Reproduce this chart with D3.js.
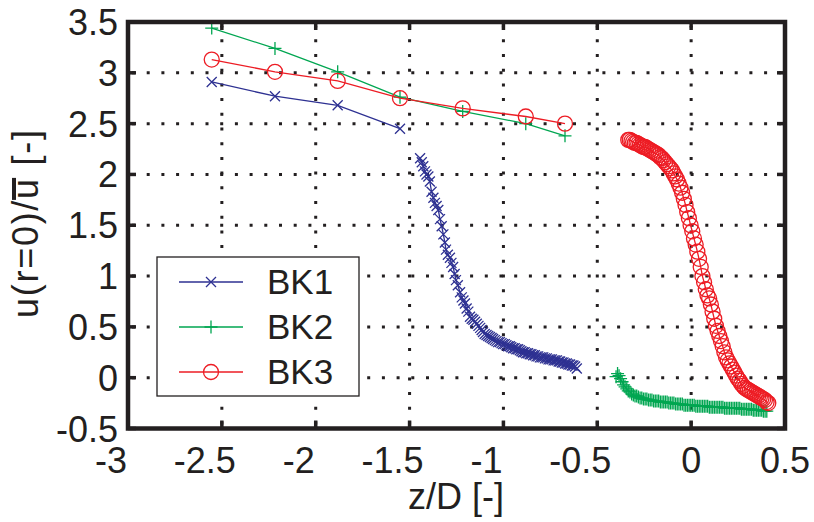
<!DOCTYPE html>
<meta charset="utf-8">
<head>
  <title>u(r=0)/u along z/D</title>
</head>
<style>
  body { margin: 0; background: #fff; }
  text { font-family: "Liberation Sans", Arial, Helvetica, sans-serif; fill: #231f20; }
</style>
<body>
<svg id="chart" width="814" height="522"></svg>
<script src="https://cdnjs.cloudflare.com/ajax/libs/d3/7.8.5/d3.min.js"></script>
<script>
// ---- data ----
var seriesNames = ['BK1', 'BK2', 'BK3'];
var xTicks = [-3, -2.5, -2, -1.5, -1, -0.5, 0, 0.5];
var yTicks = [-0.5, 0, 0.5, 1, 1.5, 2, 2.5, 3, 3.5];

// upstream traverse, [z/D, u]
var bk1Up = [[-2.554, 2.91], [-2.217, 2.77], [-1.883, 2.68], [-1.551, 2.45]];
var bk2Up = [[-2.554, 3.44], [-2.217, 3.24], [-1.883, 3.01], [-1.551, 2.76],
             [-1.217, 2.62], [-0.881, 2.50], [-0.672, 2.38]];
var bk3Up = [[-2.554, 3.13], [-2.217, 3.01], [-1.883, 2.92], [-1.551, 2.75],
             [-1.217, 2.65], [-0.881, 2.57], [-0.672, 2.50]];

// dense traverse, [z/D, u]
var bk1Near = [
  [-1.444, 2.16], [-1.435, 2.12], [-1.427, 2.08], [-1.418, 2.03], [-1.410, 2.00],
  [-1.400, 1.98], [-1.392, 1.93], [-1.383, 1.83], [-1.373, 1.77], [-1.365, 1.72],
  [-1.356, 1.69], [-1.347, 1.65], [-1.338, 1.56], [-1.329, 1.49], [-1.320, 1.41],
  [-1.312, 1.33], [-1.306, 1.26], [-1.296, 1.21], [-1.285, 1.18], [-1.277, 1.13],
  [-1.268, 1.09], [-1.260, 1.02], [-1.253, 0.96], [-1.243, 0.91], [-1.231, 0.84],
  [-1.222, 0.79], [-1.213, 0.76], [-1.205, 0.73], [-1.196, 0.68], [-1.187, 0.65],
  [-1.178, 0.60], [-1.169, 0.58], [-1.160, 0.57], [-1.151, 0.55], [-1.142, 0.53],
  [-1.133, 0.51], [-1.124, 0.49], [-1.116, 0.47], [-1.109, 0.45], [-1.100, 0.43],
  [-1.090, 0.42], [-1.081, 0.41], [-1.072, 0.40], [-1.063, 0.39], [-1.055, 0.38],
  [-1.046, 0.37], [-1.037, 0.36], [-1.028, 0.35], [-1.019, 0.35], [-1.010, 0.34],
  [-1.002, 0.33], [-0.993, 0.33], [-0.984, 0.32], [-0.975, 0.31], [-0.966, 0.31],
  [-0.958, 0.30], [-0.949, 0.29], [-0.940, 0.29], [-0.931, 0.28], [-0.922, 0.28],
  [-0.913, 0.27], [-0.904, 0.26], [-0.896, 0.25], [-0.887, 0.25], [-0.878, 0.24],
  [-0.869, 0.24], [-0.860, 0.23], [-0.851, 0.23], [-0.842, 0.22], [-0.833, 0.22],
  [-0.824, 0.21], [-0.815, 0.21], [-0.806, 0.20], [-0.797, 0.20], [-0.788, 0.20],
  [-0.779, 0.19], [-0.769, 0.19], [-0.760, 0.18], [-0.751, 0.18], [-0.742, 0.18],
  [-0.733, 0.17], [-0.724, 0.17], [-0.715, 0.17], [-0.706, 0.16], [-0.698, 0.16],
  [-0.689, 0.15], [-0.680, 0.15], [-0.671, 0.14], [-0.662, 0.14], [-0.654, 0.13],
  [-0.645, 0.13], [-0.636, 0.12], [-0.627, 0.12], [-0.618, 0.11], [-0.609, 0.09]
];
var bk2Near = [
  [-0.400, 0.01], [-0.392, 0.04], [-0.384, 0.02], [-0.376, -0.01], [-0.368, -0.04],
  [-0.360, -0.07], [-0.352, -0.09], [-0.343, -0.11], [-0.335, -0.13], [-0.326, -0.14],
  [-0.317, -0.16], [-0.308, -0.17], [-0.299, -0.18], [-0.290, -0.18], [-0.281, -0.19],
  [-0.272, -0.20], [-0.263, -0.20], [-0.254, -0.21], [-0.245, -0.21], [-0.236, -0.21],
  [-0.227, -0.22], [-0.218, -0.22], [-0.209, -0.22], [-0.200, -0.23], [-0.191, -0.23],
  [-0.182, -0.23], [-0.173, -0.23], [-0.164, -0.24], [-0.155, -0.24], [-0.146, -0.24],
  [-0.137, -0.24], [-0.128, -0.24], [-0.119, -0.25], [-0.110, -0.25], [-0.101, -0.25],
  [-0.092, -0.25], [-0.083, -0.26], [-0.074, -0.26], [-0.065, -0.26], [-0.056, -0.26],
  [-0.047, -0.26], [-0.038, -0.27], [-0.029, -0.27], [-0.020, -0.27], [-0.011, -0.27],
  [-0.002, -0.27], [0.007, -0.27], [0.016, -0.27], [0.025, -0.28], [0.034, -0.28],
  [0.043, -0.28], [0.052, -0.28], [0.061, -0.28], [0.070, -0.28], [0.079, -0.28],
  [0.088, -0.28], [0.097, -0.29], [0.106, -0.29], [0.115, -0.29], [0.124, -0.29],
  [0.133, -0.29], [0.142, -0.29], [0.151, -0.29], [0.160, -0.29], [0.169, -0.29],
  [0.178, -0.30], [0.187, -0.30], [0.196, -0.30], [0.205, -0.30], [0.214, -0.30],
  [0.223, -0.30], [0.232, -0.30], [0.241, -0.30], [0.250, -0.30], [0.259, -0.30],
  [0.268, -0.31], [0.277, -0.31], [0.286, -0.31], [0.295, -0.31], [0.304, -0.31],
  [0.313, -0.31], [0.322, -0.31], [0.331, -0.32], [0.340, -0.32], [0.349, -0.32],
  [0.358, -0.32], [0.367, -0.32], [0.376, -0.32], [0.385, -0.33], [0.394, -0.33],
  [0.403, -0.33]
];
var bk3Near = [
  [-0.335, 2.34], [-0.327, 2.34], [-0.318, 2.33], [-0.309, 2.32], [-0.300, 2.31],
  [-0.291, 2.31], [-0.282, 2.30], [-0.273, 2.29], [-0.264, 2.28], [-0.255, 2.27],
  [-0.246, 2.27], [-0.237, 2.26], [-0.228, 2.25], [-0.219, 2.24], [-0.210, 2.23],
  [-0.201, 2.22], [-0.192, 2.21], [-0.183, 2.20], [-0.174, 2.19], [-0.165, 2.17],
  [-0.156, 2.16], [-0.147, 2.14], [-0.138, 2.12], [-0.129, 2.10], [-0.120, 2.08],
  [-0.111, 2.06], [-0.102, 2.04], [-0.093, 2.01], [-0.084, 1.98], [-0.075, 1.95],
  [-0.066, 1.91], [-0.057, 1.87], [-0.048, 1.82], [-0.039, 1.76], [-0.030, 1.70],
  [-0.021, 1.63], [-0.012, 1.57], [-0.003, 1.50], [0.006, 1.44], [0.015, 1.37],
  [0.024, 1.31], [0.033, 1.24], [0.042, 1.17], [0.051, 1.09], [0.060, 1.00],
  [0.069, 0.94], [0.078, 0.87], [0.087, 0.81], [0.096, 0.78], [0.105, 0.72],
  [0.114, 0.65], [0.123, 0.58], [0.132, 0.51], [0.141, 0.46], [0.150, 0.41],
  [0.159, 0.36], [0.168, 0.31], [0.177, 0.25], [0.186, 0.20], [0.195, 0.17],
  [0.204, 0.14], [0.213, 0.11], [0.222, 0.08], [0.231, 0.05], [0.240, 0.02],
  [0.249, -0.01], [0.258, -0.03], [0.267, -0.06], [0.276, -0.08], [0.285, -0.10],
  [0.294, -0.11], [0.303, -0.12], [0.312, -0.13], [0.321, -0.14], [0.330, -0.15],
  [0.339, -0.16], [0.348, -0.17], [0.357, -0.18], [0.366, -0.19], [0.375, -0.20],
  [0.384, -0.21], [0.393, -0.22], [0.402, -0.24], [0.411, -0.25]
];

var colors = ['#2e3192', '#00a651', '#ed1c24'];
var markers = ['x', 'plus', 'circle'];

// ---- layout ----
var svg = d3.select('#chart');
var pLeft = 128, pRight = 785, pTop = 22, pBottom = 428.5;

var x = d3.scaleLinear().domain([-3, 0.5]).range([pLeft, pRight]);
var y = d3.scaleLinear().domain([-0.5, 3.5]).range([pBottom, pTop]);

svg.append('rect').attr('width', 814).attr('height', 522).attr('fill', '#fff');

// dotted grid
var grid = svg.append('g')
  .attr('stroke', '#231f20')
  .attr('stroke-width', 3)
  .attr('stroke-dasharray', '3 11.7');

grid.selectAll('.gx')
  .data(xTicks.slice(1, -1))
  .enter().append('line')
  .attr('x1', function(d) { return x(d); })
  .attr('x2', function(d) { return x(d); })
  .attr('y1', pBottom - 4)
  .attr('y2', pTop + 4);

grid.selectAll('.gy')
  .data(yTicks.slice(1, -1))
  .enter().append('line')
  .attr('x1', pLeft + 4)
  .attr('x2', pRight - 4)
  .attr('y1', function(d) { return y(d); })
  .attr('y2', function(d) { return y(d); });

// marker shapes
function markerPath(type) {
  if (type == 'x') return 'M-5,-5L5,5M-5,5L5,-5';
  if (type == 'plus') return 'M-6.5,0L6.5,0M0,-6.5L0,6.5';
  return null;
}

function drawSeries(segs, i) {
  var line = d3.line()
    .x(function(d) { return x(d[0]); })
    .y(function(d) { return y(d[1]); });
  var g = svg.append('g');

  segs.forEach(function(seg) {
    g.append('path')
      .datum(seg)
      .attr('d', line)
      .attr('fill', 'none')
      .attr('stroke', colors[i])
      .attr('stroke-width', 1.3);

    var m = g.selectAll(null)
      .data(seg)
      .enter();

    if (markers[i] == 'circle') {
      m.append('circle')
        .attr('cx', function(d) { return x(d[0]); })
        .attr('cy', function(d) { return y(d[1]); })
        .attr('r', 7.5)
        .attr('fill', 'none')
        .attr('stroke', colors[i])
        .attr('stroke-width', 1.3);
    } else {
      m.append('path')
        .attr('transform', function(d) {
          return 'translate(' + x(d[0]) + ',' + y(d[1]) + ')';
        })
        .attr('d', markerPath(markers[i]))
        .attr('fill', 'none')
        .attr('stroke', colors[i])
        .attr('stroke-width', 1.3);
    }
  });
}

drawSeries([bk1Up, bk1Near], 0);
drawSeries([bk2Up, bk2Near], 1);
drawSeries([bk3Up, bk3Near], 2);

// frame and inward ticks
var frame = svg.append('g').attr('stroke', '#231f20').attr('fill', 'none');
frame.append('rect')
  .attr('x', pLeft).attr('y', pTop)
  .attr('width', pRight - pLeft).attr('height', pBottom - pTop)
  .attr('stroke-width', 4.5);

xTicks.forEach(function(d) {
  frame.append('line').attr('x1', x(d)).attr('x2', x(d))
    .attr('y1', pBottom).attr('y2', pBottom - 8).attr('stroke-width', 3.5);
  frame.append('line').attr('x1', x(d)).attr('x2', x(d))
    .attr('y1', pTop).attr('y2', pTop + 8).attr('stroke-width', 3.5);
});
yTicks.forEach(function(d) {
  frame.append('line').attr('x1', pLeft).attr('x2', pLeft + 8)
    .attr('y1', y(d)).attr('y2', y(d)).attr('stroke-width', 3.5);
  frame.append('line').attr('x1', pRight).attr('x2', pRight - 8)
    .attr('y1', y(d)).attr('y2', y(d)).attr('stroke-width', 3.5);
});

// tick labels
svg.selectAll('.xl')
  .data(xTicks)
  .enter().append('text')
  .attr('x', function(d) { return x(d) + (d < 0 ? -17 : 0); })
  .attr('y', 473)
  .attr('text-anchor', 'middle')
  .attr('font-size', 36)
  .text(function(d) { return String(d); });

svg.selectAll('.yl')
  .data(yTicks)
  .enter().append('text')
  .attr('x', 118)
  .attr('y', function(d) { return y(d) + 13; })
  .attr('text-anchor', 'end')
  .attr('font-size', 36)
  .text(function(d) { return String(d); });

// axis titles
svg.append('text')
  .attr('x', 456).attr('y', 509)
  .attr('text-anchor', 'middle')
  .attr('font-size', 36)
  .text('z/D [-]');

var ylab = svg.append('g').attr('transform', 'translate(38,224) rotate(-90)');
var ytext = ylab.append('text')
  .attr('x', 0).attr('y', 0)
  .attr('text-anchor', 'middle')
  .attr('font-size', 36)
  .attr('textLength', 188)
  .attr('lengthAdjust', 'spacing')
  .text('u(r=0)/u [-]');
// bar over the second u
var node = ytext.node();
var s = node.getStartPositionOfChar(7).x, e = node.getEndPositionOfChar(7).x;
ylab.append('line')
  .attr('x1', s - 1).attr('x2', e + 1)
  .attr('y1', -24).attr('y2', -24)
  .attr('stroke', '#231f20').attr('stroke-width', 4);

// legend
var lg = svg.append('g');
lg.append('rect')
  .attr('x', 157).attr('y', 257).attr('width', 202).attr('height', 139)
  .attr('fill', '#fff').attr('stroke', '#231f20').attr('stroke-width', 1.3);

var rowY = [282, 327, 372];
seriesNames.forEach(function(name, i) {
  lg.append('line')
    .attr('x1', 179).attr('x2', 243)
    .attr('y1', rowY[i]).attr('y2', rowY[i])
    .attr('stroke', colors[i]).attr('stroke-width', 1.3);
  if (markers[i] == 'circle') {
    lg.append('circle').attr('cx', 211).attr('cy', rowY[i]).attr('r', 7.5)
      .attr('fill', 'none').attr('stroke', colors[i]).attr('stroke-width', 1.3);
  } else {
    lg.append('path')
      .attr('transform', 'translate(211,' + rowY[i] + ')')
      .attr('d', markerPath(markers[i]))
      .attr('fill', 'none').attr('stroke', colors[i]).attr('stroke-width', 1.3);
  }
  lg.append('text')
    .attr('x', 267).attr('y', rowY[i] + 12)
    .attr('font-size', 35)
    .text(name);
});
</script>
</body>
</html>
